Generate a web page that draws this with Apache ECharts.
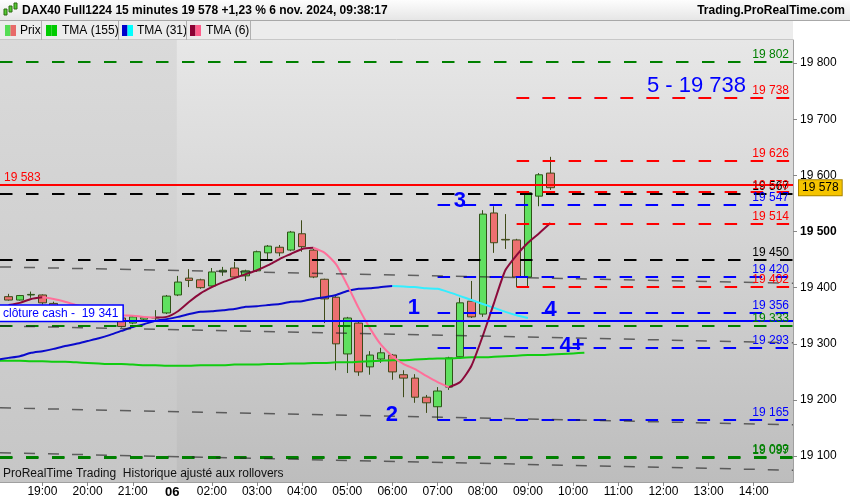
<!DOCTYPE html>
<html><head><meta charset="utf-8">
<script src="https://cdn.jsdelivr.net/npm/echarts@6/dist/echarts.min.js"></script>
<style>html,body{margin:0;padding:0;background:#fff}#c{width:850px;height:500px}</style>
</head><body><div id="c"></div>
<script>
// ---- categories (15-minute bars) ----
const times = ['18:00','18:15','18:30','18:45','19:00','19:15','19:30','19:45','20:00','20:15','20:30','20:45','21:00','21:15','21:30','21:45',
 '01:15','01:30','01:45','02:00','02:15','02:30','02:45','03:00','03:15','03:30','03:45','04:00','04:15','04:30','04:45',
 '05:00','05:15','05:30','05:45','06:00','06:15','06:30','06:45','07:00','07:15','07:30','07:45','08:00','08:15','08:30','08:45',
 '09:00','09:15','09:30','09:45','10:00','10:15','10:30','10:45','11:00','11:15','11:30','11:45','12:00','12:15','12:30','12:45',
 '13:00','13:15','13:30','13:45','14:00','14:15','14:30','14:45'];
const dayBreak = 15.5, dayLabel = '06';
const sessionStart = 15.9;   // start of the 6 nov. session shading
// ---- OHLC (first bar, 18:00, is off-screen) ----
const open  = [null,19384,19378,19387,19387,19372,19365,19360,19356,19352,19356,19346,19337,19344,19346,19355,19387,19417,19414,19403,19428,19435,19421,19430,19462,19472,19467,19496,19467,19415,19383,19282,19337,19259,19273,19280,19245,19239,19205,19188,19223,19277,19376,19353,19533,19486,19485,19419,19563,19604];
const high  = [null,19389,19387,19393,19388,19375,19368,19366,19364,19363,19360,19350,19351,19349,19360,19387,19421,19433,19416,19435,19437,19446,19432,19466,19476,19476,19501,19520,19470,19416,19385,19348,19339,19287,19293,19282,19253,19246,19209,19223,19277,19382,19412,19538,19545,19531,19487,19571,19604,19633];
const low   = [null,19377,19377,19382,19370,19360,19352,19350,19348,19347,19344,19329,19335,19341,19341,19353,19385,19401,19398,19400,19421,19417,19412,19428,19451,19456,19465,19464,19417,19337,19253,19248,19243,19245,19266,19236,19205,19195,19177,19164,19218,19273,19346,19348,19462,19469,19401,19403,19545,19574];
const close = [null,19378,19386,19388,19373,19365,19360,19356,19352,19356,19346,19331,19348,19347,19347,19385,19410,19413,19400,19428,19431,19419,19430,19464,19474,19462,19499,19473,19419,19380,19300,19346,19250,19280,19284,19250,19239,19205,19195,19216,19275,19373,19348,19531,19480,19485,19419,19569,19601,19578];
// ---- moving averages ----
const tma155 = [19270,19270,19270,19269,19269,19268,19268,19267,19266,19265,19264,19264,19263,19262,19262,19261,19261,19261,19262,19262,19262,19263,19263,19263,19264,19264,19265,19265,19266,19266,19267,19267,19268,19269,19270,19271,19271,19272,19273,19274,19274,19275,19276,19276,19277,19278,19279,19280,19280,19281,19282,19283,19284];
const tma31 = [19272,19275,19278,19284,19287,19291,19296,19300,19305,19310,19316,19323,19330,19335,19341,19344,19348,19353,19357,19358,19360,19362,19366,19367,19369,19371,19375,19376,19380,19383,19387,19394,19398,19399,19401,19403,19402,19401,19399,19398,19392,19385,19378,19371,19364,19357,19351,19346];
const tma6 = [null,19369,19373,19380,19383,19380,19375,19369,19364,19358,19355,19351,19350,19348,19347,19348,19358,19375,19390,19401,19410,19417,19424,19431,19440,19451,19460,19469,19471,19462,19442,19405,19364,19328,19298,19278,19264,19255,19243,19232,19223,19232,19261,19314,19373,19431,19458,19480,19497,19515];
// ---- horizontal levels ----
const greenLevels = [19802, 19333, 19099, 19097];
const blackLevels = [19567, 19450];
const redLevels = [19738, 19626, 19570, 19514, 19402];
const blueLevels = [19738, 19547, 19420, 19356, 19293, 19165];
const redFrom = 46, blueFrom = 39;           // bars where the levels start (08:45, 07:00)
const redSolid = 19583, cashClose = 19341, lastPrice = 19578;
const trendLines = [[19437, 19408], [19332, 19302], [19186, 19156], [19106, 19075]]; // left edge, right edge
// ---- annotations ----
const annText = ['1', '2', '3', '4', '4+'];
const annX = [36.9, 34.96, 40.98, 49.0, 50.9];
const annY = [19364, 19173, 19555, 19360, 19296];
const bigText = '5 - 19 738', bigX = 61.93, bigY = 19759;
const yTicks = [19100, 19200, 19300, 19400, 19500, 19600, 19700, 19800];

const XMIN = 0.24, XMAX = 70.48, YMIN = 19054, YMAX = 19841;
const FONT = '"Liberation Sans", Arial, sans-serif';
const fmt = v => String(v).replace(/\B(?=(\d{3})+(?!\d))/g, ' ');

function splitDir(vals, up) {
  return vals.map((v, i) => {
    if (v == null) return [i, '-'];
    const p = i > 0 ? vals[i - 1] : null, n = i < vals.length - 1 ? vals[i + 1] : null;
    const r1 = p != null ? v >= p : null;
    const r2 = n != null ? n >= v : null;
    return [i, (r1 === up || r2 === up) ? v : '-'];
  });
}
function level(v, from, color, dash, width, labelText, labelColor, pos) {
  return [{coord: [from, v], lineStyle: {color, type: dash, width},
    label: {show: !!labelText, formatter: labelText || '', position: pos || 'insideEndTop', color: labelColor || color,
      fontSize: 12, fontFamily: FONT, distance: [4, 1]}},
    {coord: [XMAX, v]}];
}
const DASH = [12.5, 13.5];
const mlData = [];
greenLevels.forEach(v => mlData.push(level(v, XMIN, '#008000', DASH, 2, fmt(v))));
blackLevels.forEach(v => mlData.push(level(v, XMIN, '#000000', DASH, 2, fmt(v))));
blueLevels.forEach(v => mlData.push(level(v, v === 19738 ? redFrom : blueFrom, '#0000ff', DASH, 2, redLevels.includes(v) ? '' : fmt(v))));
redLevels.forEach(v => mlData.push(level(v, redFrom, '#ff0000', DASH, 2, fmt(v))));
mlData.push(level(redSolid, XMIN, '#ff0000', 'solid', 2, fmt(redSolid), '#ff0000', 'insideStartTop'));
const cash = level(cashClose, XMIN, '#0000ff', 'solid', 2, 'clôture cash -  ' + fmt(cashClose), '#0000ff', 'insideStartTop');
Object.assign(cash[0].label, {backgroundColor: '#ffffff', borderColor: '#0000ff', borderWidth: 1.5, padding: [2, 4, 1, 3], distance: [0, 0]});
mlData.push(cash);
trendLines.forEach(t => mlData.push([{coord: [XMIN, t[0]], lineStyle: {color: 'rgba(35,35,35,0.65)', type: [11, 13], width: 1.5}, label: {show: false}}, {coord: [XMAX, t[1]]}]));

const chart = echarts.init(document.getElementById('c'), null, {renderer: 'canvas'});
const hdrGrad = new echarts.graphic.LinearGradient(0, 0, 0, 1, [{offset: 0, color: '#fdfdfd'}, {offset: 1, color: '#e6e6e6'}]);
const plotGrad = new echarts.graphic.LinearGradient(0, 0, 0, 1, [{offset: 0, color: '#e7e7e7'}, {offset: 1, color: '#bdbdbd'}]);
const prevGrad = new echarts.graphic.LinearGradient(0, 0, 0, 1, [{offset: 0, color: '#dadada'}, {offset: 1, color: '#c6c6c6'}]);
const legendItems = [
  {x: 5, c1: '#55dd55', c2: '#e86a6a', t: 'Prix', tx: 20, sep: 41.5},
  {x: 46, c1: '#00cc00', c2: '#00cc00', t: 'TMA (155)', tx: 62, sep: 118.5},
  {x: 122, c1: '#0000cc', c2: '#00ffff', t: 'TMA (31)', tx: 137, sep: 186.5},
  {x: 190, c1: '#8b0033', c2: '#ff5c8a', t: 'TMA (6)', tx: 206, sep: 250.5}
];
const graphics = [
  {type: 'rect', z: -10, shape: {x: 0, y: 0, width: 850, height: 20}, style: {fill: hdrGrad}},
  {type: 'rect', z: -10, shape: {x: 0, y: 20, width: 793, height: 20}, style: {fill: '#ececec'}},
  {type: 'rect', z: -10, shape: {x: 0, y: 40, width: 793, height: 442}, style: {fill: plotGrad}},
  {type: 'line', z: 1, shape: {x1: 0, y1: 20.5, x2: 850, y2: 20.5}, style: {stroke: '#a8a8a8', lineWidth: 1}},
  {type: 'line', z: 1, shape: {x1: 0, y1: 39.5, x2: 793, y2: 39.5}, style: {stroke: '#c8c8c8', lineWidth: 1}},
  {type: 'text', z: 5, x: 22, y: 11, style: {text: 'DAX40 Full1224 15 minutes 19 578 +1,23 % 6 nov. 2024, 09:38:17', font: 'bold 12px ' + FONT, fill: '#000', verticalAlign: 'middle'}},
  {type: 'text', z: 5, x: 845, y: 11, style: {text: 'Trading.ProRealTime.com', font: 'bold 12px ' + FONT, fill: '#000', align: 'right', verticalAlign: 'middle'}},
  {type: 'text', z: 5, x: 3, y: 474, style: {text: 'ProRealTime Trading  Historique ajusté aux rollovers', font: '12px ' + FONT, fill: '#111', verticalAlign: 'middle'}},
  // tiny candle icon
  {type: 'rect', z: 5, shape: {x: 4, y: 9, width: 3, height: 6}, style: {fill: '#55cc33', stroke: '#2d6a10'}},
  {type: 'rect', z: 5, shape: {x: 9, y: 6, width: 3, height: 6}, style: {fill: '#55cc33', stroke: '#2d6a10'}},
  {type: 'rect', z: 5, shape: {x: 14, y: 3, width: 3, height: 6}, style: {fill: '#55cc33', stroke: '#2d6a10'}}
];
legendItems.forEach(l => {
  graphics.push({type: 'rect', z: 5, shape: {x: l.x, y: 25, width: 5.5, height: 11}, style: {fill: l.c1}});
  graphics.push({type: 'rect', z: 5, shape: {x: l.x + 5.5, y: 25, width: 5.5, height: 11}, style: {fill: l.c2}});
  graphics.push({type: 'text', z: 5, x: l.tx, y: 30.5, style: {text: l.t, font: '12px ' + FONT, fill: '#000', verticalAlign: 'middle'}});
  graphics.push({type: 'line', z: 5, shape: {x1: l.sep, y1: 21, x2: l.sep, y2: 40}, style: {stroke: '#b0b0b0', lineWidth: 1}});
});

const hourIdx = times.map((t, i) => t.endsWith(':00') ? i : -1).filter(i => i >= XMIN && i <= XMAX);
const candles = [];
open.forEach((o, i) => { if (o != null) candles.push([i, o, close[i], low[i], high[i]]); });

chart.setOption({
  animation: false,
  textStyle: {fontFamily: FONT},
  graphic: graphics,
  grid: {left: 0, right: 57, top: 40, bottom: 18},
  xAxis: {
    type: 'value', min: XMIN, max: XMAX, splitLine: {show: false},
    axisLine: {show: true, onZero: false, lineStyle: {color: '#a0a0a0'}},
    axisTick: {show: true, length: 4, customValues: hourIdx, lineStyle: {color: '#888'}},
    axisLabel: {customValues: hourIdx.concat([dayBreak]), margin: 4, fontSize: 12, color: '#000', fontFamily: FONT,
      formatter: v => v === dayBreak ? '{d|' + dayLabel + '}' : times[Math.round(v)],
      rich: {d: {fontWeight: 'bold', fontSize: 13, fontFamily: FONT, color: '#000'}}}
  },
  yAxis: {
    type: 'value', position: 'right', min: YMIN, max: YMAX, splitLine: {show: false},
    axisLine: {show: true, onZero: false, lineStyle: {color: '#a0a0a0'}},
    axisTick: {show: true, length: 4, customValues: yTicks, lineStyle: {color: '#888'}},
    axisLabel: {customValues: yTicks, margin: 7, fontSize: 12, color: '#000', fontFamily: FONT,
      formatter: v => v === 19500 ? '{b|' + fmt(v) + '}' : fmt(v),
      rich: {b: {fontWeight: 'bold', fontSize: 12, fontFamily: FONT, color: '#000'}}}
  },
  series: [
    {type: 'line', z: 1, data: [], markArea: {silent: true, itemStyle: {color: prevGrad},
      data: [[{coord: [XMIN, YMIN]}, {coord: [sessionStart, YMAX]}]]}},
    {type: 'candlestick', z: 2, barWidth: 8, data: candles,
      itemStyle: {color: '#60e060', color0: '#ec7070', borderColor: '#2f5418', borderColor0: '#3f4a18', borderWidth: 1},
      markLine: {silent: true, symbol: ['none', 'none'],
        data: [{yAxis: lastPrice, lineStyle: {color: 'rgba(0,0,0,0)', width: 0},
          label: {show: true, position: 'end', formatter: fmt(lastPrice), distance: 6, backgroundColor: '#f5c400',
            borderColor: '#a88400', borderWidth: 1, padding: [2, 3, 1, 3], color: '#000', fontSize: 12, fontFamily: FONT}}]}},
    {type: 'line', z: 3, data: tma155.map((v, i) => [i, v]), showSymbol: false, smooth: 0.2,
      lineStyle: {color: '#11cc11', width: 2}},
    {type: 'line', z: 3, data: splitDir(tma31, true), showSymbol: false, smooth: 0.2, lineStyle: {color: '#0a0acc', width: 2}},
    {type: 'line', z: 3, data: splitDir(tma31, false), showSymbol: false, smooth: 0.2, lineStyle: {color: '#33eeff', width: 2}},
    {type: 'line', z: 3, data: splitDir(tma6, true), showSymbol: false, smooth: 0.2, lineStyle: {color: '#8b0a3a', width: 2}},
    {type: 'line', z: 3, data: splitDir(tma6, false), showSymbol: false, smooth: 0.2, lineStyle: {color: '#ff6f9a', width: 2}},
    {type: 'line', z: 4, data: [], markLine: {silent: true, symbol: ['none', 'none'], data: mlData}},
    {type: 'scatter', z: 6, symbolSize: 1, itemStyle: {color: 'rgba(0,0,0,0)', opacity: 1},
      data: annText.map((t, i) => ({value: [annX[i], annY[i]], label: {formatter: t}})).concat([{value: [bigX, bigY], label: {formatter: bigText, fontWeight: 'normal'}}]),
      label: {show: true, position: 'inside', color: '#0000ff', fontSize: 22, fontWeight: 'bold', fontFamily: FONT, textBorderWidth: 0}}
  ]
});
</script></body></html>
